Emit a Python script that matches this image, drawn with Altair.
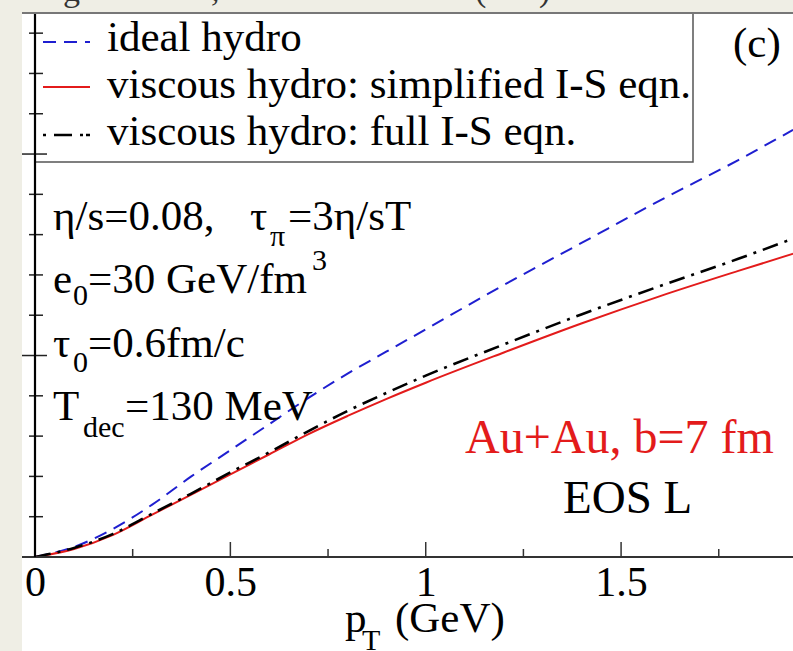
import altair as alt
import pandas as pd

# ---------------- data ----------------
pt = [0, 0.1, 0.2, 0.3, 0.4, 0.5, 0.6, 0.7, 0.8, 0.9, 1.0, 1.2, 1.4, 1.6, 1.8, 1.94]
ideal = [0, 0.005, 0.014, 0.026, 0.040, 0.053, 0.066, 0.079, 0.091, 0.102, 0.113,
         0.135, 0.156, 0.177, 0.197, 0.212]
simplified = [0, 0.004, 0.011, 0.021, 0.031, 0.041, 0.051, 0.061, 0.070, 0.0785, 0.0865,
              0.1015, 0.1160, 0.1295, 0.142, 0.1505]
full = [0, 0.0045, 0.0115, 0.0215, 0.0315, 0.042, 0.052, 0.0625, 0.0725, 0.0815, 0.090,
        0.1055, 0.1205, 0.1345, 0.148, 0.158]

series_names = ["ideal hydro", "viscous hydro: simplified I-S eqn.", "viscous hydro: full I-S eqn."]
series_colors = ["#1f1fd0", "#e31b1b", "#000000"]

x_label_values = [0, 0.5, 1, 1.5]
x_major_ticks = [0.5, 1.0, 1.5]
x_minor_ticks = [0.25, 0.75, 1.25, 1.75]
y_major_ticks = [0.1, 0.2]
y_minor_ticks = [0.02, 0.04, 0.06, 0.08, 0.12, 0.14, 0.16, 0.18, 0.22, 0.24, 0.26]

W, H = 758, 544
PAD = {"left": 35, "top": 13, "right": 0, "bottom": 94}
FONT = "Liberation Serif"

xs = alt.Scale(domain=[0, 1.94], nice=False, zero=False)
ys = alt.Scale(domain=[0, 0.27], nice=False, zero=False)
xaxis = alt.Axis(values=x_label_values, format="~g", ticks=False, domain=False, grid=False,
                 title=None, labelFont=FONT, labelFontSize=42, labelColor="#000",
                 labelPadding=5, labelFlush=False, zindex=2)

rows = []
for name, vals in zip(series_names, [ideal, simplified, full]):
    for p, v in zip(pt, vals):
        rows.append({"pT": p, "v2": v, "series": name})
curves = pd.DataFrame(rows)
one = pd.DataFrame({"a": [0]})


def line_layer(name, color, dash, width):
    kw = dict(color=color, strokeWidth=width, interpolate="monotone", clip=True)
    if dash:
        kw["strokeDash"] = dash
    return alt.Chart(curves).transform_filter(alt.datum.series == name).mark_line(**kw).encode(
        x=alt.X("pT:Q", scale=xs, axis=xaxis),
        y=alt.Y("v2:Q", scale=ys, axis=None),
    )


def px_rule(x, x2, y, y2, color, width, dash=None):
    kw = dict(color=color, strokeWidth=width)
    if dash:
        kw["strokeDash"] = dash
    return alt.Chart(one).mark_rule(**kw).encode(
        x=alt.value(x), x2=alt.value(x2), y=alt.value(y), y2=alt.value(y2))


def txt(s, x, y, size=43, color="#000"):
    return alt.Chart(one).mark_text(text=s, font=FONT, fontSize=size, color=color,
                                    align="left", baseline="alphabetic").encode(
        x=alt.value(x), y=alt.value(y))


bg = alt.Chart(one).mark_rect(fill="white").encode(
    x=alt.value(-13), x2=alt.value(W), y=alt.value(0), y2=alt.value(H + PAD["bottom"]))

l_ideal = line_layer(series_names[0], series_colors[0], [13, 8], 2)
l_simp = line_layer(series_names[1], series_colors[1], None, 2)
l_full = line_layer(series_names[2], series_colors[2], [16, 7, 3, 7], 2.6)

legend_box = alt.Chart(one).mark_rect(fill="white", stroke="#555", strokeWidth=1.5).encode(
    x=alt.value(0), x2=alt.value(658), y=alt.value(0), y2=alt.value(149))

leg = [
    px_rule(8, 55, 29, 29, series_colors[0], 2, [13, 8]),
    px_rule(8, 55, 74, 74, series_colors[1], 2),
    px_rule(8, 55, 122, 122, series_colors[2], 2.6, [3, 8, 18, 8, 3]),
    txt(series_names[0], 72, 38),
    txt(series_names[1], 72, 85),
    txt(series_names[2], 72, 132),
]

ann = [
    txt("(c)", 698, 44),
    txt("η/s=0.08,", 18, 217),
    txt("τ", 215, 217),
    txt("π", 235, 233, 30),
    txt("=3η/sT", 253, 217),
    txt("e", 18, 280),
    txt("0", 38, 292, 30),
    txt("=30 GeV/fm", 53, 280),
    txt("3", 277, 257, 30),
    txt("τ", 18, 344),
    txt("0", 38, 359, 30),
    txt("=0.6fm/c", 53, 344),
    txt("T", 18, 407),
    txt("dec", 48, 424, 30),
    txt("=130 MeV", 90, 407),
    txt("Au+Au, b=7 fm", 430, 440, 48, "#e31b1b"),
    txt("EOS L", 528, 500, 47),
    txt("p", 310, 619),
    txt("T", 327, 637, 30),
    txt("(GeV)", 360, 619),
    # clipped caption fragments at the very top
    txt("g", 28, -12, 34, "#333"),
    txt(",", 176, -12, 34, "#333"),
    txt("(", 440, -12, 34, "#333"),
    txt(")", 504, -12, 34, "#333"),
]

x_maj = alt.Chart(pd.DataFrame({"pT": x_major_ticks})).mark_rule(color="#333", strokeWidth=1.5).encode(
    x=alt.X("pT:Q", scale=xs, axis=xaxis), y=alt.value(H - 15), y2=alt.value(H))
x_min = alt.Chart(pd.DataFrame({"pT": x_minor_ticks})).mark_rule(color="#333", strokeWidth=1.5).encode(
    x=alt.X("pT:Q", scale=xs, axis=xaxis), y=alt.value(H - 8), y2=alt.value(H))
y_maj = alt.Chart(pd.DataFrame({"v2": y_major_ticks})).mark_rule(color="#222", strokeWidth=1.5).encode(
    y=alt.Y("v2:Q", scale=ys, axis=None), x=alt.value(-13), x2=alt.value(12))
y_min = alt.Chart(pd.DataFrame({"v2": y_minor_ticks})).mark_rule(color="#222", strokeWidth=1.5).encode(
    y=alt.Y("v2:Q", scale=ys, axis=None), x=alt.value(-6), x2=alt.value(8))

axes_lines = [
    px_rule(-13, W, H, H, "#333", 2.2),
    px_rule(0, 0, 0, H, "#000", 2.2),
    px_rule(-13, W, 0, 0, "#777", 2.2),
]

chart = alt.layer(
    bg, l_ideal, l_simp, l_full, legend_box, *leg, *ann, x_maj, x_min, y_maj, y_min, *axes_lines
).properties(
    width=W, height=H, padding=PAD,
    autosize=alt.AutoSizeParams(type="none"),
    background="#efeee5",
).configure_view(stroke=None)

chart.save("out.html", embed_options={"renderer": "svg", "actions": False})
